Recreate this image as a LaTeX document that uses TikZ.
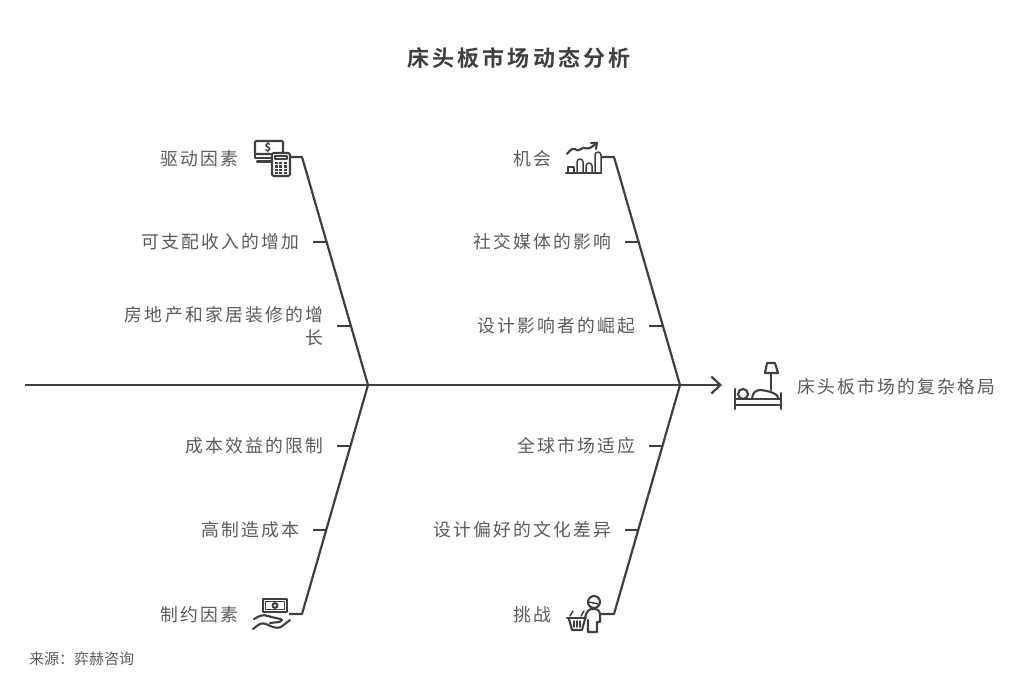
\documentclass[tikz,border=0pt]{standalone}
\usepackage{fontspec}
\usetikzlibrary{arrows.meta}
\setmainfont{Noto Sans CJK SC}
\newfontfamily\cjklabel[LetterSpace=12.7]{Noto Sans CJK SC}
\newfontfamily\cjktitle[LetterSpace=14]{Noto Sans CJK SC Bold}
\definecolor{inkc}{HTML}{3F3F3F}
\definecolor{textc}{HTML}{5A5A5A}
\begin{document}
\begin{tikzpicture}[x=1pt,y=-1pt,
  labelsty/.style={color=textc,anchor=east,align=right,inner xsep=0pt,inner ysep=0pt,font=\cjklabel\fontsize{17.8}{23}\selectfont},
  ribsty/.style={labelsty,inner xsep=13.5pt},
  titlesty/.style={color=inkc,anchor=center,font=\cjktitle\fontsize{22}{26}\selectfont},
  sourcesty/.style={color=textc,anchor=west,inner sep=0pt,font=\fontsize{15}{18}\selectfont},
  bone/.style={color=inkc,line width=2.2pt,line join=round},
  icon/.style={color=inkc,line width=1.5pt,line join=round,line cap=round},
  iconfat/.style={icon,line width=2.1pt}]

  \useasboundingbox (0,0) rectangle (1024,682);

  \node[titlesty] (title) at (519,58) {床头板市场动态分析};
  \node[sourcesty] (source) at (29,659) {来源：弈赫咨询};

  % spine
  \coordinate (tail) at (25,385);
  \coordinate (jointL) at (368,385);
  \coordinate (jointR) at (680,385);
  \coordinate (head) at (722,385);
  \draw[bone,-{Straight Barb[length=9pt,width=17pt,line width=2.2pt]}] (tail) -- (jointL) -- (jointR) -- (head);
  \node[labelsty,anchor=west] (effect) at (797,387) {床头板市场的复杂格局};

  % big bones
  \coordinate (iconA) at (289,157);
  \coordinate (topA) at (302,157);
  \coordinate (iconB) at (601,157);
  \coordinate (topB) at (614,157);
  \coordinate (iconC) at (289,614);
  \coordinate (botC) at (302,614);
  \coordinate (iconD) at (601,614);
  \coordinate (botD) at (614,614);
  \draw[bone] (iconA) -- (topA) -- (jointL);
  \draw[bone] (iconB) -- (topB) -- (jointR);
  \draw[bone] (iconC) -- (botC) -- (jointL);
  \draw[bone] (iconD) -- (botD) -- (jointR);

  % headings
  \node[labelsty] (driver) at (239,159) {驱动因素};
  \node[labelsty] (chance) at (552,159) {机会};
  \node[labelsty] (limit) at (239,615) {制约因素};
  \node[labelsty] (risk) at (552,615) {挑战};

  % upper ribs
  \node[ribsty] (income) at (313,242) {可支配收入的增加};
  \node[ribsty] (house) at (337,326) {房地产和家居装修的增\\长};
  \node[ribsty] (media) at (625,242) {社交媒体的影响};
  \node[ribsty] (design) at (649,326) {设计影响者的崛起};
  \coordinate (ribA) at (327,242);
  \coordinate (ribB) at (351,326);
  \coordinate (ribC) at (639,242);
  \coordinate (ribD) at (663,326);
  \draw[bone] (income.east) -- (ribA);
  \draw[bone] (house.east) -- (ribB);
  \draw[bone] (media.east) -- (ribC);
  \draw[bone] (design.east) -- (ribD);

  % lower ribs
  \node[ribsty] (cost) at (337,446) {成本效益的限制};
  \node[ribsty] (make) at (313,530) {高制造成本};
  \node[ribsty] (global) at (649,446) {全球市场适应};
  \node[ribsty] (taste) at (625,530) {设计偏好的文化差异};
  \coordinate (ribE) at (351,446);
  \coordinate (ribF) at (327,530);
  \coordinate (ribG) at (663,446);
  \coordinate (ribH) at (639,530);
  \draw[bone] (cost.east) -- (ribE);
  \draw[bone] (make.east) -- (ribF);
  \draw[bone] (global.east) -- (ribG);
  \draw[bone] (taste.east) -- (ribH);

  % money and calculator
  \draw[iconfat,rounded corners=1pt] (255,141) rectangle (283,154);
  \node[color=inkc,inner sep=0pt,font=\fontsize{11}{11}\selectfont\bfseries] (dollar) at (268,147.5) {\$};
  \draw[iconfat] (255,154) -- (255,158) -- (272,158) (257,161.5) -- (272,161.5);
  \draw[iconfat,fill=white,rounded corners=1.5pt] (272,153) rectangle (290,176);
  \draw[icon] (275,156) rectangle (287,159);
  \foreach \i in {0,1,2} \foreach \j in {0,1,2,3}
    \fill[inkc] (275+\i*4.4,162+\j*3.3) rectangle ++(3,2.2);

  % growth chart
  \draw[iconfat] (567,154) .. controls (571,149) and (573,148) .. (575,149) .. controls (578,152) and (580,149) .. (583,148) .. controls (586,147) and (587,150) .. (590,148) -- (596,144);
  \draw[iconfat] (591,143) -- (597,143) -- (596,149);
  \draw[iconfat] (566,173) -- (601,173);
  \draw[icon] (568,173) -- (568,167) -- (574,167) -- (574,173);
  \draw[icon] (577,173) -- (577,162) arc (180:360:3) -- (583,173);
  \draw[icon] (586,173) -- (586,166) arc (180:360:3) -- (592,173);
  \draw[icon] (595,173) -- (595,155) arc (180:360:3) -- (601,173);

  % sleeper
  \draw[iconfat] (735,389) -- (735,409) (781,393) -- (781,409);
  \draw[iconfat] (735,399) -- (781,399) (735,405) -- (781,405);
  \draw[iconfat] (743,394) circle (5);
  \draw[iconfat] (752,398) .. controls (753,392) and (756,390) .. (761,390) .. controls (768,391) and (778,393) .. (779,399);
  \draw[iconfat] (767,363) -- (775,363) -- (778,373) -- (765,373) -- cycle;
  \draw[iconfat] (771,373) -- (771,390);

  % hand with banknote
  \draw[iconfat] (263,599) rectangle (287,612);
  \draw[icon] (265.5,601.5) rectangle (284.5,609.5);
  \fill[inkc] (275,605.5) circle (3.5);
  \fill[white] (275,605.5) circle (1.3);
  \draw[iconfat] (254,619) .. controls (259,616) and (263,614) .. (268,616) .. controls (273,618) and (280,618) .. (282,620) .. controls (281,623) and (275,622) .. (270,623);
  \draw[iconfat] (253,629) .. controls (258,625) and (261,622) .. (266,624) .. controls (272,627) and (277,629) .. (281,627) -- (290,620);

  % shopper
  \draw[iconfat] (594,602) circle (6);
  \draw[icon] (589,602) -- (598,604);
  \draw[iconfat] (585,618) .. controls (586,612) and (589,608) .. (594,609) .. controls (598,609) and (600,611) .. (600,615) -- (600,622) -- (597,622) -- (597,632) -- (588,632) -- (588,620);
  \draw[iconfat] (567,618) -- (586,618);
  \draw[iconfat] (569,619) -- (572,630) -- (582,630) -- (585,619);
  \draw[icon] (574,621) -- (574,627) (577,621) -- (577,627) (580,621) -- (580,627);
  \draw[icon] (570,616) -- (573,611) (581,616) -- (584,611);

\end{tikzpicture}
\end{document}
